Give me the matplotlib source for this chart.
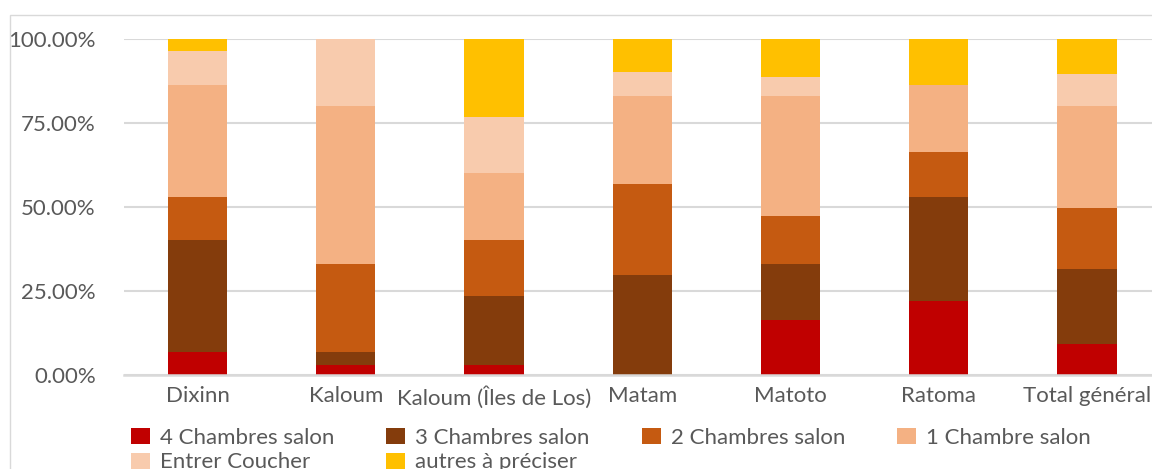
import numpy as np
import matplotlib.pyplot as plt
from matplotlib.patches import Rectangle

plt.rcParams["font.family"] = ["Lato", "DejaVu Sans"]

communes = ["Dixinn", "Kaloum", "Kaloum (Îles de Los)", "Matam",
            "Matoto", "Ratoma", "Total général"]

series_names = ["4 Chambres salon", "3 Chambres salon", "2 Chambres salon",
                "1 Chambre salon", "Entrer Coucher", "autres à préciser"]

# parts in percent
ch4 = [6.9, 3.0, 3.0, 0.0, 16.5, 22.0, 9.2]
ch3 = [33.3, 3.8, 20.5, 29.8, 16.5, 31.0, 22.3]
ch2 = [12.9, 26.2, 16.7, 27.0, 14.3, 13.4, 18.2]
ch1 = [33.2, 47.1, 20.0, 26.2, 35.7, 19.9, 30.4]
entrer = [10.1, 19.9, 16.6, 7.2, 5.7, 0.0, 9.5]
autres = [3.6, 0.0, 23.2, 9.8, 11.3, 13.7, 10.4]

colors = ["#C00000", "#843C0C", "#C55A11", "#F4B183", "#F8CBAD", "#FFC000"]
text_color = "#595959"
grid_color = "#D9D9D9"

W, H = 1152, 469
fig = plt.figure(figsize=(W / 100, H / 100), dpi=100)

# outer chart border (Excel chart area), partly cropped off
fig.patches.append(Rectangle((10 / W, -0.1), 1.2, 1.1 - 15 / H,
                             transform=fig.transFigure, fill=False,
                             edgecolor=grid_color, linewidth=1.0))

ax = fig.add_axes([123.5 / W, 1 - 375 / H, 1037.5 / W, 336 / H])

data = [ch4, ch3, ch2, ch1, entrer, autres]
x = np.arange(len(communes))
bottom = np.zeros(len(communes))
handles = []
for vals, name, c in zip(data, series_names, colors):
    vals = np.array(vals) / 100.0
    b = ax.bar(x, vals, 0.4, bottom=bottom, color=c, label=name, zorder=3)
    handles.append(b)
    bottom += vals

ax.set_xlim(-0.5, len(communes) - 0.5)
ax.set_ylim(0, 1)
ax.set_yticks([0, 0.25, 0.5, 0.75, 1.0])
ax.set_yticklabels([f"{v * 100:.2f}%" for v in ax.get_yticks()])
ax.set_xticks(x)
ax.set_xticklabels(communes)

for s in ax.spines.values():
    s.set_visible(False)
ax.grid(axis="y", color=grid_color, linewidth=1.5, zorder=0)
ax.axhline(0, color=grid_color, linewidth=1.8, zorder=4, clip_on=False)
ax.tick_params(axis="both", length=0, labelsize=16, colors=text_color)
ax.tick_params(axis="y", pad=20)
ax.tick_params(axis="x", pad=8)

# Excel lays the legend out row by row; matplotlib fills columns first
order = [0, 4, 1, 5, 2, 3]
fig.legend([handles[i] for i in order], [series_names[i] for i in order],
           loc="upper left", bbox_to_anchor=(131 / W, 1 - 428 / H),
           ncol=4, frameon=False, fontsize=16, labelcolor=text_color,
           handlelength=0.85, handleheight=0.75, handletextpad=0.45,
           columnspacing=2.35, labelspacing=0.2, borderpad=0,
           borderaxespad=0)

fig.savefig("out.png", dpi=100)
